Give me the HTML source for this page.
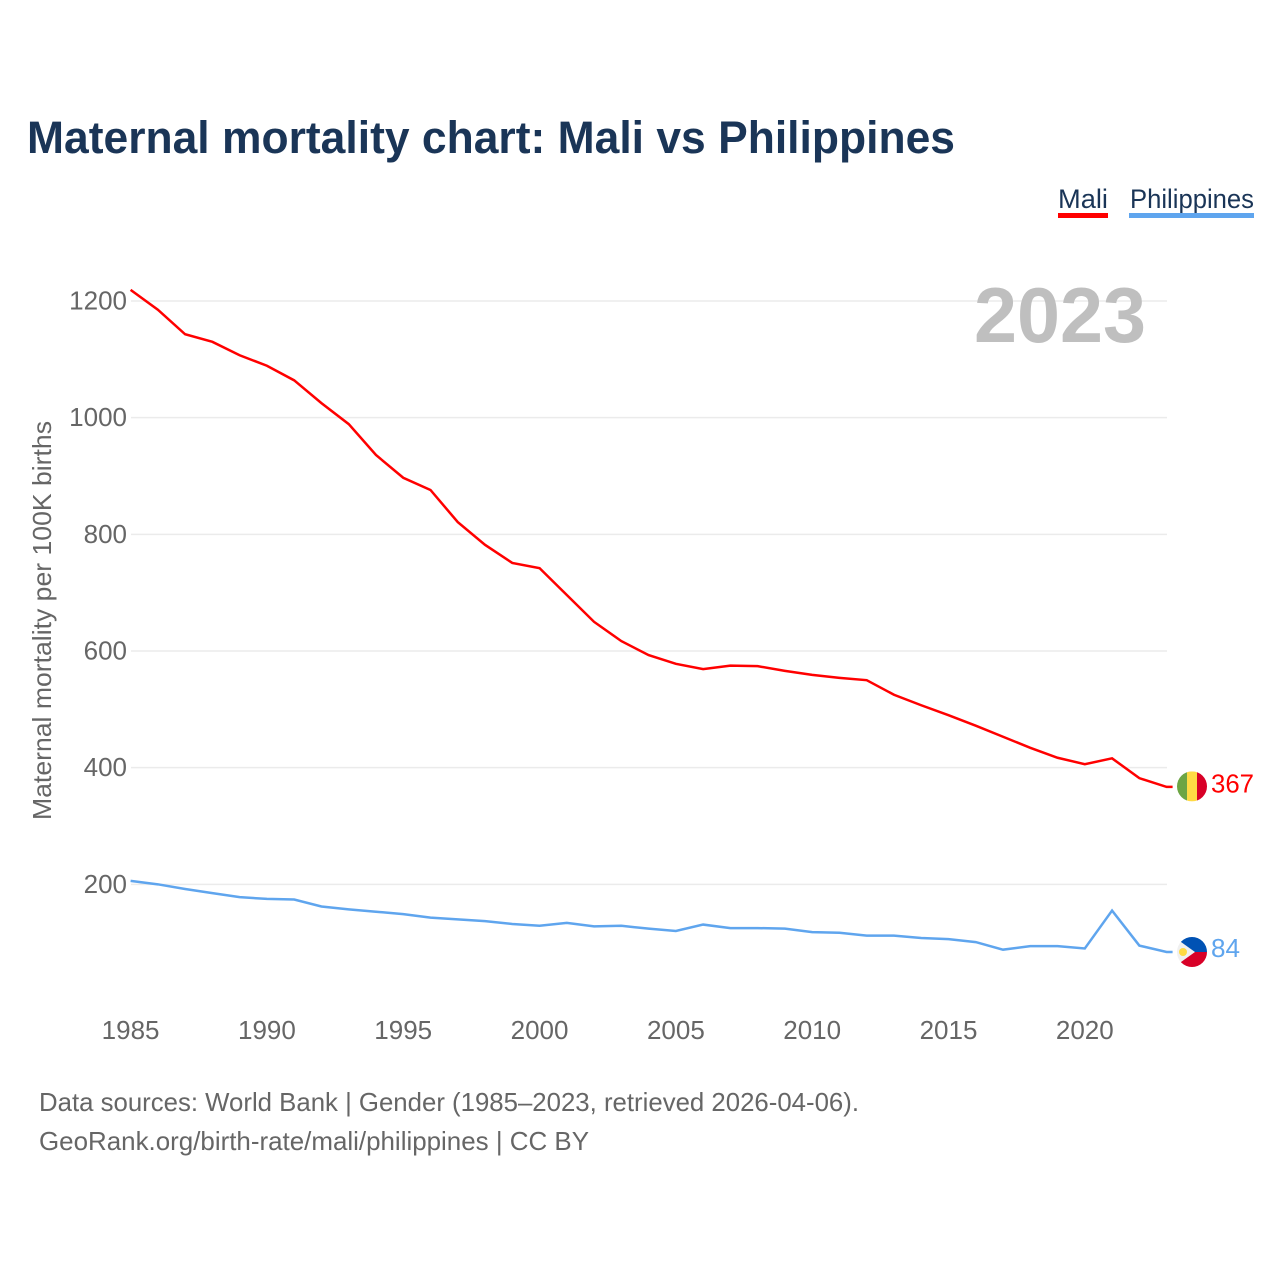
<!DOCTYPE html>
<html lang="en">
<head>
<meta charset="utf-8">
<title>Maternal mortality chart: Mali vs Philippines</title>
<style>
html,body{margin:0;padding:0;background:#fff;width:1280px;height:1280px;overflow:hidden}
svg{display:block}
text{font-family:"Liberation Sans",sans-serif}
</style>
</head>
<body>
<svg id="chart" xmlns="http://www.w3.org/2000/svg" width="1280" height="1280" viewBox="0 0 1280 1280">
  <defs>
    <clipPath id="flag-clip"><circle cx="0" cy="0" r="15"></circle></clipPath>
  </defs>
  <text x="27" y="153" font-size="45" font-weight="700" fill="#1a3557" textLength="928" lengthAdjust="spacingAndGlyphs">Maternal mortality chart: Mali vs Philippines</text>

  <g>
    <g>
      <text x="1058" y="208" font-size="27" fill="#1a3557" textLength="50" lengthAdjust="spacingAndGlyphs">Mali</text>
      <rect x="1058" y="213" width="50" height="5" fill="#ff0000"></rect>
    </g>
    <g>
      <text x="1130" y="208" font-size="27" fill="#1a3557" textLength="124" lengthAdjust="spacingAndGlyphs">Philippines</text>
      <rect x="1129" y="213" width="125" height="5" fill="#5fa5ee"></rect>
    </g>
  </g>

  <g id="grid"></g>
  <g id="y-ticks"></g>
  <g id="x-ticks"></g>

  <text x="1146" y="342" font-size="78" font-weight="700" fill="#bfbfbf" text-anchor="end" textLength="172" lengthAdjust="spacingAndGlyphs">2023</text>

  <text transform="translate(51,820) rotate(-90)" font-size="26" fill="#666666" textLength="399" lengthAdjust="spacingAndGlyphs">Maternal mortality per 100K births</text>

  <g id="series"></g>

  <g id="flag-mali">
    <g clip-path="url(#flag-clip)">
      <rect x="-15" y="-15" width="10" height="30" fill="#6da544"></rect>
      <rect x="-5" y="-15" width="10" height="30" fill="#ffda44"></rect>
      <rect x="5" y="-15" width="10" height="30" fill="#d80027"></rect>
    </g>
  </g>
  <g id="flag-philippines">
    <g clip-path="url(#flag-clip)">
      <rect x="-15" y="-15" width="30" height="30" fill="#f0f0f0"></rect>
      <polygon points="-18,-15 15,-15 15,0 3,0" fill="#0052b4"></polygon>
      <polygon points="-18,15 15,15 15,0 3,0" fill="#d80027"></polygon>
      <circle cx="-9" cy="0" r="4" fill="#ffda44"></circle>
    </g>
  </g>
  <text id="label-mali" x="1211" font-size="26" fill="#ff0000" textLength="43" lengthAdjust="spacingAndGlyphs"></text>
  <text id="label-philippines" x="1211" font-size="26" fill="#5fa5ee" textLength="29" lengthAdjust="spacingAndGlyphs"></text>

  <g>
    <text x="39" y="1111" font-size="26" fill="#666666" textLength="820" lengthAdjust="spacingAndGlyphs">Data sources: World Bank | Gender (1985–2023, retrieved 2026-04-06).</text>
    <text x="39" y="1150" font-size="26" fill="#666666" textLength="550" lengthAdjust="spacingAndGlyphs">GeoRank.org/birth-rate/mali/philippines | CC BY</text>
  </g>
</svg>
<script>
const firstYear = 1985;
const maliValues = [1219,1185,1143,1130,1107,1089,1064,1025,989,936,897,876,821,782,751,742,696,650,617,593,578,569,575,574,566,559,554,550,525,507,490,472,453,434,417,406,416,382,367];
const philippinesValues = [206,200,192,185,178,175,174,162,157,153,149,143,140,137,132,129,134,128,129,124,120,131,125,125,124,118,117,112,112,108,106,101,88,94,94,90,155,95,84];
const yTickValues = [200,400,600,800,1000,1200];
const xTickYears = [1985,1990,1995,2000,2005,2010,2015,2020];

const NS = 'http://www.w3.org/2000/svg';
function xScale(year){ return 130.6 + (year - 1985) * (1166.6 - 130.6) / 38; }
function yScale(v){ return 1001 - v * 0.58333; }
function pathFor(values){
  let d = values.map(function(v,i){
    return (i ? 'L' : 'M') + xScale(firstYear + i).toFixed(2) + ' ' + yScale(v).toFixed(2);
  }).join(' ');
  d += ' h6';
  return d;
}

const grid = document.getElementById('grid');
const yTicks = document.getElementById('y-ticks');
yTickValues.forEach(function(v){
  const line = document.createElementNS(NS,'line');
  
  
  line.setAttribute('x1', 131);
  line.setAttribute('x2', 1167);
  line.setAttribute('y1', yScale(v));
  line.setAttribute('y2', yScale(v));
  line.setAttribute('stroke', '#ebebeb');
  line.setAttribute('stroke-width', '1.5');
  grid.appendChild(line);
  const t = document.createElementNS(NS,'text');
  
  
  t.setAttribute('x', 127);
  t.setAttribute('y', yScale(v) + 8.5);
  t.setAttribute('text-anchor', 'end');
  t.setAttribute('font-size', '26');
  t.setAttribute('fill', '#666666');
  t.textContent = v;
  yTicks.appendChild(t);
});

const xTicks = document.getElementById('x-ticks');
xTickYears.forEach(function(y){
  const t = document.createElementNS(NS,'text');
  
  
  t.setAttribute('x', xScale(y));
  t.setAttribute('y', 1039);
  t.setAttribute('text-anchor', 'middle');
  t.setAttribute('font-size', '26');
  t.setAttribute('fill', '#666666');
  t.textContent = y;
  xTicks.appendChild(t);
});

const seriesGroup = document.getElementById('series');
const maliLine = document.createElementNS(NS,'path');


maliLine.setAttribute('d', pathFor(maliValues));
maliLine.setAttribute('fill', 'none');
maliLine.setAttribute('stroke', '#ff0000');
maliLine.setAttribute('stroke-width', '2.5');
seriesGroup.appendChild(maliLine);

const philippinesLine = document.createElementNS(NS,'path');


philippinesLine.setAttribute('d', pathFor(philippinesValues));
philippinesLine.setAttribute('fill', 'none');
philippinesLine.setAttribute('stroke', '#5fa5ee');
philippinesLine.setAttribute('stroke-width', '2.5');
seriesGroup.appendChild(philippinesLine);

const maliLast = maliValues[maliValues.length - 1];
const philippinesLast = philippinesValues[philippinesValues.length - 1];
document.getElementById('flag-mali').setAttribute('transform', 'translate(1192,' + (yScale(maliLast) - 0.5) + ')');
document.getElementById('flag-philippines').setAttribute('transform', 'translate(1192,' + yScale(philippinesLast) + ')');
const labelMali = document.getElementById('label-mali');
labelMali.setAttribute('y', yScale(maliLast) + 5.5);
labelMali.textContent = maliLast;
const labelPhilippines = document.getElementById('label-philippines');
labelPhilippines.setAttribute('y', yScale(philippinesLast) + 5);
labelPhilippines.textContent = philippinesLast;
</script>
</body>
</html>
